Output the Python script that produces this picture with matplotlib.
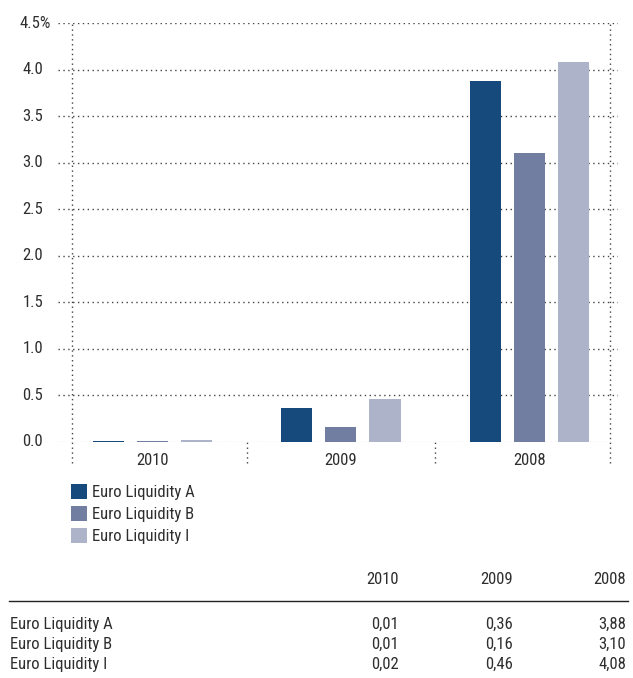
import matplotlib
matplotlib.use("Agg")
import matplotlib.pyplot as plt
import matplotlib.transforms as mtransforms
from matplotlib.patches import Patch
import numpy as np

years = ["2010", "2009", "2008"]
series_names = ["Euro Liquidity A", "Euro Liquidity B", "Euro Liquidity I"]
euro_a = [0.01, 0.36, 3.88]
euro_b = [0.01, 0.16, 3.10]
euro_i = [0.02, 0.46, 4.08]
y_ticks = [0.0, 0.5, 1.0, 1.5, 2.0, 2.5, 3.0, 3.5, 4.0, 4.5]
colors = ["#174a7c", "#717ea2", "#adb3c8"]

plt.rcParams['font.family'] = ['Roboto Condensed', 'Archivo Narrow', 'Liberation Sans', 'DejaVu Sans']
TXT = "#2e2e2e"
FS = 12

W, H = 633, 678
fig = plt.figure(figsize=(W / 100, H / 100), dpi=100)

def fx(px):
    return px / W

def fy(py):
    return 1 - py / H

ax = fig.add_axes([fx(58), fy(442), fx(618) - fx(58), fy(23) - fy(442)])
ax.set_xlim(-0.5, 2.47)
ax.set_ylim(0, 4.5)
for s in ax.spines.values():
    s.set_visible(False)
ax.set_xticks([])
ax.set_yticks([])

# gridlines
for t in y_ticks[1:]:
    ax.axhline(t, color="#444444", lw=1.0, ls=(0, (1, 2.5)), zorder=1)
ax.axhline(-0.012, color="#5a5a5a", lw=2.2, ls=(0, (3, 0.6)), zorder=2)

x = np.arange(len(years))
off = 0.234
bw = 0.165
for i, (vals, name) in enumerate(zip([euro_a, euro_b, euro_i], series_names)):
    ax.bar(x + (i - 1) * off, vals, width=bw, color=colors[i], zorder=3,
           label=name, clip_on=False)

# vertical separators
trans = mtransforms.blended_transform_factory(ax.transData, ax.transAxes)
ybot = -21 / 419
for xv, full in [(-0.426, True), (0.5, False), (1.5, False), (2.426, True)]:
    top = 1.0 if full else 0.0
    ax.plot([xv, xv], [ybot, top], transform=trans, color="#444444", lw=1.0,
            ls=(0, (1, 2.5)), clip_on=False, zorder=2)

# x labels
for xi, yr in zip(x, years):
    ax.text(xi, -0.027, yr, transform=trans, ha="center", va="top",
            fontsize=FS, color=TXT)

# y labels
ytrans = mtransforms.blended_transform_factory(fig.transFigure, ax.transData)
for t in y_ticks[:-1]:
    ax.text(fx(43), t, f"{t:.1f}", transform=ytrans, ha="right", va="center",
            fontsize=FS, color=TXT)
ax.text(fx(20), y_ticks[-1], f"{y_ticks[-1]:.1f}%", transform=ytrans, ha="left",
        va="center", fontsize=FS, color=TXT)

# legend
handles = [Patch(facecolor=c, edgecolor="none") for c in colors]
fig.legend(handles, series_names, loc="upper left",
           bbox_to_anchor=(fx(64), fy(477)), frameon=False, fontsize=FS,
           handlelength=1.0, handleheight=1.0, handletextpad=0.3,
           labelspacing=0.35, borderaxespad=0, labelcolor=TXT)

# table
col_x = [399, 513, 626]
for cx, yr in zip(col_x, years):
    fig.text(fx(cx), fy(579), yr, ha="right", va="center", fontsize=FS, color=TXT)
fig.add_artist(plt.Line2D([fx(9), fx(628)], [fy(601), fy(601)], color="#222222", lw=1.0))
row_y = [624, 644, 664]
for ry, name, vals in zip(row_y, series_names, [euro_a, euro_b, euro_i]):
    fig.text(fx(10), fy(ry), name, ha="left", va="center", fontsize=FS, color=TXT)
    for cx, v in zip(col_x, vals):
        fig.text(fx(cx), fy(ry), f"{v:.2f}".replace(".", ","), ha="right",
                 va="center", fontsize=FS, color=TXT)

fig.savefig("out.png", dpi=100)
